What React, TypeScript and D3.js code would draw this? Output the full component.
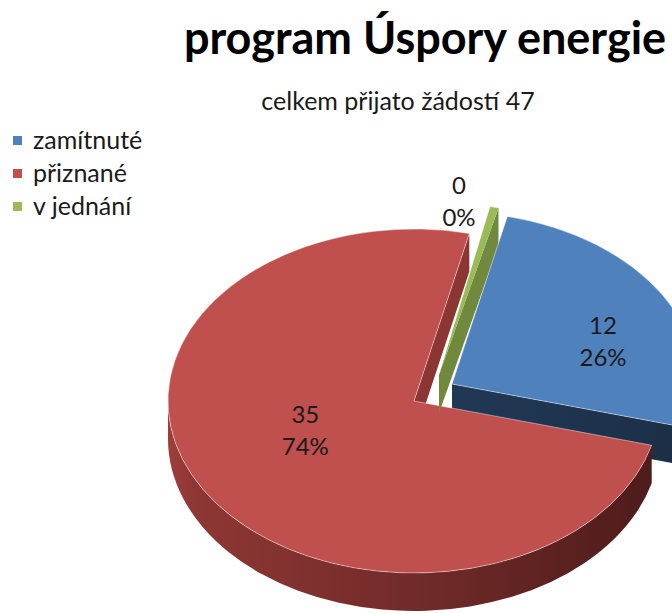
import * as d3 from 'd3'

const categories = ['zamítnuté', 'přiznané', 'v jednání']
const values = [12, 35, 0]
const title = 'program Úspory energie'
const subtitle = 'celkem přijato žádostí 47'

const topColors = ['#4f81bd', '#c0504d', '#9bbb59']
const faceColors = ['#1f3550', '#8c3634', '#71893c']
// explosion shift of each slice on screen (px)
const explodeShift = [
  [38, -17],
  [0, 0],
  [25, -26],
]
const labelRadius = [0.66, 0.475, 1.17]
const labelTurn = [9.5, 9.5, -4]
const minSliceDeg = 2

const W = 672
const H = 613
const cx = 414
const cy = 401
const rx = 246
const ry = 172
const depth = 38
const font = 'Lato, "Open Sans", sans-serif'

const rad = (deg: number) => (deg * Math.PI) / 180

function pt(a: number, o: number[], dy = 0, r = 1): [number, number] {
  return [cx + o[0] + r * rx * Math.sin(a), cy + o[1] - r * ry * Math.cos(a) + dy]
}

function topPath(a0: number, a1: number, o: number[]) {
  const c = pt(0, o, 0, 0)
  const p0 = pt(a0, o)
  const p1 = pt(a1, o)
  const large = a1 - a0 > Math.PI ? 1 : 0
  return `M${c}L${p0}A${rx},${ry} 0 ${large} 1 ${p1}Z`
}

function sidePath(b0: number, b1: number, o: number[]) {
  const p0 = pt(b0, o)
  const p1 = pt(b1, o)
  const q1 = pt(b1, o, depth)
  const q0 = pt(b0, o, depth)
  return `M${p0}A${rx},${ry} 0 0 1 ${p1}L${q1}A${rx},${ry} 0 0 0 ${q0}Z`
}

function facePath(a: number, o: number[]) {
  const c = pt(0, o, 0, 0)
  const cd = pt(0, o, depth, 0)
  return `M${c}L${pt(a, o)}L${pt(a, o, depth)}L${cd}Z`
}

// visible part of the outer wall: angles between 90 and 270 degrees
function visibleWall(a0: number, a1: number): [number, number] | null {
  for (const k of [0, 1]) {
    const lo = Math.max(a0, rad(90) + k * 2 * Math.PI)
    const hi = Math.min(a1, rad(270) + k * 2 * Math.PI)
    if (hi > lo) return [lo, hi]
  }
  return null
}

export default function App() {
  const total = d3.sum(values)
  const arcs = d3
    .pie<number>()
    .sort(null)
    .startAngle(rad(13))
    .endAngle(rad(13) + 2 * Math.PI)(values)

  const slices = arcs.map((d, i) => {
    let a0 = d.startAngle
    let a1 = d.endAngle
    if (a1 - a0 < rad(minSliceDeg)) {
      const m = (a0 + a1) / 2
      a0 = m - rad(minSliceDeg / 2)
      a1 = m + rad(minSliceDeg / 2)
    }
    return { i, a0, a1, o: explodeShift[i], mid: (d.startAngle + d.endAngle) / 2 }
  })

  const blue = slices[0]
  const red = slices[1]
  const green = slices[2]

  const wall = (s: typeof blue, fill: string) => {
    const v = visibleWall(s.a0, s.a1)
    return v ? <path d={sidePath(v[0], v[1], s.o)} fill={fill} /> : null
  }

  const labels = slices.map((s) => {
    const a = s.mid + rad(labelTurn[s.i])
    const o = s.i === 2 ? [0, 0] : s.o
    const [x, y] = pt(a, o, 0, labelRadius[s.i])
    const pct = Math.round((values[s.i] / total) * 100) + '%'
    return (
      <text key={s.i} x={x} textAnchor="middle" fontFamily={font} fontSize={24} fill="#1a1a1a">
        <tspan x={x} y={y - 8}>{values[s.i]}</tspan>
        <tspan x={x} y={y + 24}>{pct}</tspan>
      </text>
    )
  })

  const legendY = d3.scaleBand<string>().domain(categories).range([124, 223])

  return (
    <svg width={W} height={H} style={{ position: 'absolute', left: 0, top: 0 }}>
      <defs>
        <linearGradient id="redSide" gradientUnits="userSpaceOnUse" x1={cx - rx} x2={cx + rx * 0.97} y1={0} y2={0}>
          <stop offset="0" stopColor="#9e3e3b" />
          <stop offset="0.05" stopColor="#8e3734" />
          <stop offset="0.5" stopColor="#722b29" />
          <stop offset="1" stopColor="#4e1c1b" />
        </linearGradient>
        <linearGradient id="blueSide" gradientUnits="userSpaceOnUse" x1={cx} x2={W} y1={0} y2={0}>
          <stop offset="0" stopColor="#223a57" />
          <stop offset="1" stopColor="#1c2f47" />
        </linearGradient>
      </defs>
      <rect width={W} height={H} fill="#fff" />

      <text x={425} y={54} textAnchor="middle" fontFamily={font} fontWeight="bold" fontSize={45} fill="#000">
        {title}
      </text>
      <text x={398} y={110} textAnchor="middle" fontFamily={font} fontSize={25} fill="#1a1a1a">
        {subtitle}
      </text>

      {categories.map((c, i) => {
        const y = (legendY(c) ?? 0) + legendY.bandwidth() / 2
        return (
          <g key={c}>
            <rect x={13} y={y - 4.5} width={9} height={9} fill={topColors[i]} />
            <text x={33} y={y + 8} fontFamily={font} fontSize={25} fill="#1a1a1a">
              {c}
            </text>
          </g>
        )
      })}

      {/* side faces */}
      <path d={facePath(blue.a1, blue.o)} fill="url(#blueSide)" />
      {wall(blue, '#2b4668')}
      {wall(red, 'url(#redSide)')}
      <path d={facePath(red.a1, red.o)} fill={faceColors[1]} />
      <path d={topPath(red.a0, red.a1, red.o)} fill={topColors[1]} stroke="rgba(255,255,255,0.45)" strokeWidth={1} />
      <path d={facePath(green.a1, green.o)} fill={faceColors[2]} />
      <path d={topPath(green.a0, green.a1, green.o)} fill={topColors[2]} />
      <path d={topPath(blue.a0, blue.a1, blue.o)} fill={topColors[0]} stroke="rgba(255,255,255,0.45)" strokeWidth={1} />

      {labels}
    </svg>
  )
}
